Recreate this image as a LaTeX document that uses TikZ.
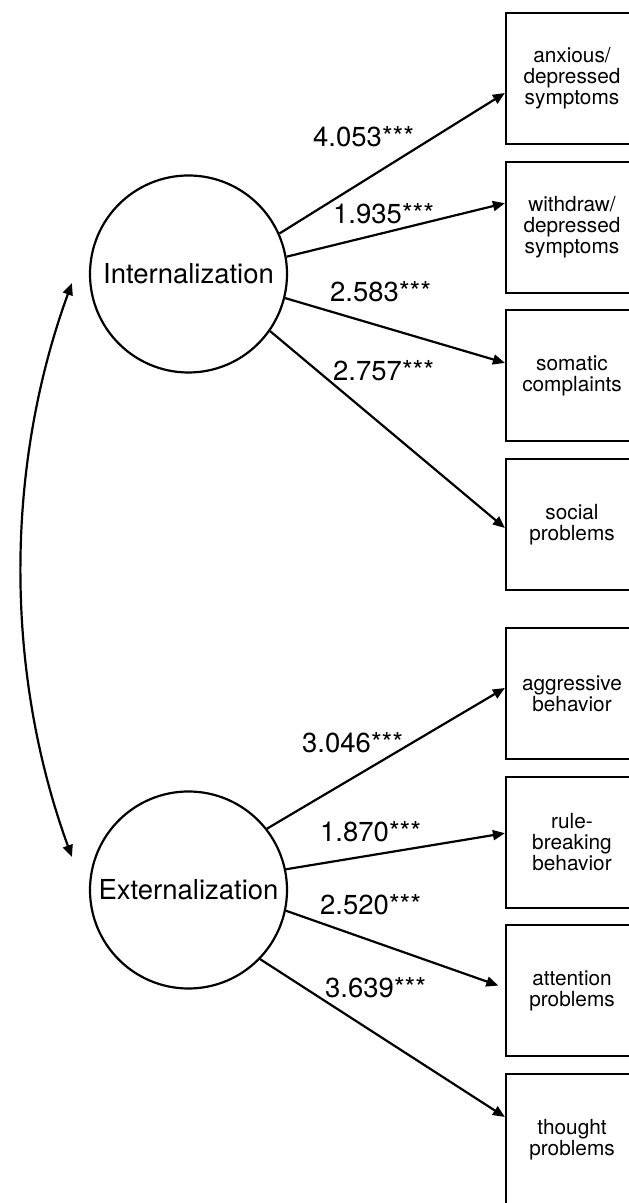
\documentclass[tikz,border=0pt]{standalone}
\usepackage{fontspec}
\setmainfont{TeX Gyre Heros}
\usepackage{tikz}
\usetikzlibrary{arrows.meta}

\tikzset{
  factor/.style={draw, circle, line width=2.2pt, minimum size=197pt, inner sep=0pt,
    font=\fontsize{27.5}{30}\selectfont},
  indicator/.style={draw, rectangle, line width=2.2pt, minimum width=132pt,
    minimum height=131pt, inner sep=0pt, align=center,
    font=\fontsize{20.8}{21}\selectfont},
  loading/.style={line width=2.2pt, -{Triangle[length=12pt,width=10pt]}},
  covary/.style={line width=2.2pt, {Triangle[length=12pt,width=10pt]}-{Triangle[length=12pt,width=10pt]}},
  estimate/.style={anchor=base west, inner sep=0pt, font=\fontsize{27.5}{30}\selectfont}
}

\begin{document}
\begin{tikzpicture}[x=1pt,y=1pt]
        \useasboundingbox (0.000000,0.000000) rectangle (629.000000,1203.000000);

        % Latent factors
        \node [factor] (int) at (188.500000,929.000000) {Internalization};%
        \node [factor] (ext) at (188.500000,313.000000) {Externalization};%

        % Indicator boxes of internalization
        \node [indicator] (anx) at (572.000000,1124.500000) {anxious/\\depressed\\symptoms};%
        \node [indicator] (wit) at (572.000000,975.800000) {withdraw/\\depressed\\symptoms};%
        \node [indicator] (som) at (572.000000,827.100000) {somatic\\complaints};%
        \node [indicator] (soc) at (572.000000,678.500000) {social\\problems};%

        % Indicator boxes of externalization
        \node [indicator] (agg) at (572.000000,509.500000) {aggressive\\behavior};%
        \node [indicator] (rul) at (572.000000,360.800000) {rule-\\breaking\\behavior};%
        \node [indicator] (att) at (572.000000,212.100000) {attention\\problems};%
        \node [indicator] (tho) at (572.000000,63.500000) {thought\\problems};%

        % Loadings of internalization
        \draw [loading] (int.24) -- ([yshift=-14.5pt]anx.west);%
        \draw [loading] (int.10.6) -- ([yshift=24pt]wit.west);%
        \draw [loading] (int.-14) -- ([yshift=13pt]som.west);%
        \draw [loading] (int.-35.3) -- ([yshift=-3.5pt]soc.west);%

        % Loadings of externalization
        \draw [loading] (ext.38) -- ([yshift=5.5pt]agg.west);%
        \draw [loading] (ext.12) -- ([yshift=9pt]rul.west);%
        \draw [loading, shorten >=7pt] (ext.-12) -- ([yshift=3pt]att.west);%
        \draw [loading] (ext.-44.4) -- ([yshift=22.5pt]tho.west);%

        % Estimates
        \node [estimate] (e1) at (313.000000,1056.000000) {4.053***};%
        \node [estimate] (e2) at (333.000000,979.000000) {1.935***};%
        \node [estimate] (e3) at (330.000000,901.000000) {2.583***};%
        \node [estimate] (e4) at (333.000000,822.000000) {2.757***};%
        \node [estimate] (e5) at (302.000000,450.000000) {3.046***};%
        \node [estimate] (e6) at (320.000000,361.000000) {1.870***};%
        \node [estimate] (e7) at (320.000000,288.000000) {2.520***};%
        \node [estimate] (e8) at (325.000000,205.000000) {3.639***};%

        % Covariance of the two factors
        \draw [covary] ([xshift=-17pt,yshift=-9pt]int.west) to [out=-110, in=110, looseness=0.88] ([xshift=-17pt,yshift=33pt]ext.west);%
\end{tikzpicture}
\end{document}
